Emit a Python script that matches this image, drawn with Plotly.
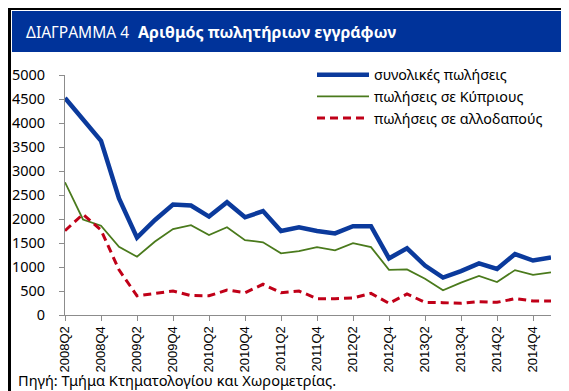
import plotly.graph_objects as go

quarters = ["2008Q2","2008Q3","2008Q4","2009Q1","2009Q2","2009Q3","2009Q4","2010Q1",
            "2010Q2","2010Q3","2010Q4","2011Q1","2011Q2","2011Q3","2011Q4","2012Q1",
            "2012Q2","2012Q3","2012Q4","2013Q1","2013Q2","2013Q3","2013Q4","2014Q1",
            "2014Q2","2014Q3","2014Q4","2015Q1"]
total = [4520, 4080, 3630, 2430, 1610, 1980, 2300, 2280, 2050, 2350, 2035, 2165, 1750, 1826,
         1750, 1700, 1850, 1850, 1180, 1390, 1030, 780, 915, 1075, 960, 1270, 1135, 1200]
cypriots = [2765, 1990, 1860, 1420, 1215, 1530, 1790, 1870, 1665, 1830, 1560, 1515, 1285, 1330,
            1415, 1345, 1495, 1415, 940, 950, 755, 515, 675, 815, 685, 935, 835, 890]
foreigners = [1757, 2100, 1770, 940, 400, 450, 500, 405, 400, 520, 465, 640, 465, 500,
              340, 340, 355, 450, 243, 438, 264, 257, 243, 278, 264, 340, 292, 292]
names = ["συνολικές πωλήσεις", "πωλήσεις σε Κύπριους", "πωλήσεις σε αλλοδαπούς"]
tick_labels = quarters[::2]

W, H = 569, 391
L, R, T, B = 57, 26, 67, 84
pw, ph = W - L - R, H - T - B

def px(x):
    return (x - L) / pw

def py(y):
    return (H - B - y) / ph

FONT = "Noto Sans"

fig = go.Figure()
fig.add_trace(go.Scatter(x=quarters, y=total, name=names[0], mode="lines",
                         line=dict(color="#0B3A9C", width=4.5)))
fig.add_trace(go.Scatter(x=quarters, y=cypriots, name=names[1], mode="lines",
                         line=dict(color="#4A7A1C", width=1.8)))
fig.add_trace(go.Scatter(x=quarters, y=foreigners, name=names[2], mode="lines",
                         line=dict(color="#C00018", width=3, dash="8px,5px")))

shapes = [
    dict(type="rect", xref="paper", yref="paper", x0=px(3), x1=px(565), y0=py(2), y1=py(387),
         fillcolor="white", line=dict(width=0), layer="below"),
    dict(type="rect", xref="paper", yref="paper", x0=px(4), x1=px(565), y0=py(3), y1=py(44),
         fillcolor="#00339A", line=dict(width=0), layer="below"),
]

annotations = [
    dict(text="ΔΙΑΓΡΑΜΜΑ 4", xref="paper", yref="paper", x=px(16), y=py(24),
         xanchor="left", yanchor="middle", showarrow=False,
         font=dict(family=FONT, size=15.5, color="white")),
    dict(text="<b>Αριθμός πωλητήριων εγγράφων</b>", xref="paper", yref="paper", x=px(128), y=py(24),
         xanchor="left", yanchor="middle", showarrow=False,
         font=dict(family=FONT, size=16, color="white")),
    dict(text="Πηγή: Τμήμα Κτηματολογίου και Χωρομετρίας.", xref="paper", yref="paper",
         x=px(8), y=py(372), xanchor="left", yanchor="middle", showarrow=False,
         font=dict(family=FONT, size=14.6, color="black")),
]

fig.update_layout(
    width=W, height=H,
    margin=dict(l=L, r=R, t=T, b=B, autoexpand=False),
    paper_bgcolor="black", plot_bgcolor="white",
    shapes=shapes, annotations=annotations,
    showlegend=True,
    legend=dict(x=px(304), y=py(51), xanchor="left", yanchor="top",
                bgcolor="rgba(0,0,0,0)", font=dict(family=FONT, size=14.3, color="black"),
                itemwidth=52, tracegroupgap=0),
    xaxis=dict(type="category", range=[0, len(quarters) - 1], tickmode="array",
               tickvals=tick_labels, ticktext=tick_labels, tickangle=-90,
               showgrid=False, showline=True, linecolor="#8C8C8C", linewidth=1,
               ticks="outside", ticklen=5, tickcolor="#8C8C8C", zeroline=False,
               tickfont=dict(family="Liberation Sans", size=13, color="black")),
    yaxis=dict(range=[0, 5000], dtick=500, showgrid=False, showline=True,
               linecolor="#8C8C8C", linewidth=1, ticks="outside", ticklen=5,
               tickcolor="#8C8C8C", zeroline=False, ticklabelstandoff=11,
               tickfont=dict(family=FONT, size=14.5, color="black")),
)

fig.write_html("out.html")
